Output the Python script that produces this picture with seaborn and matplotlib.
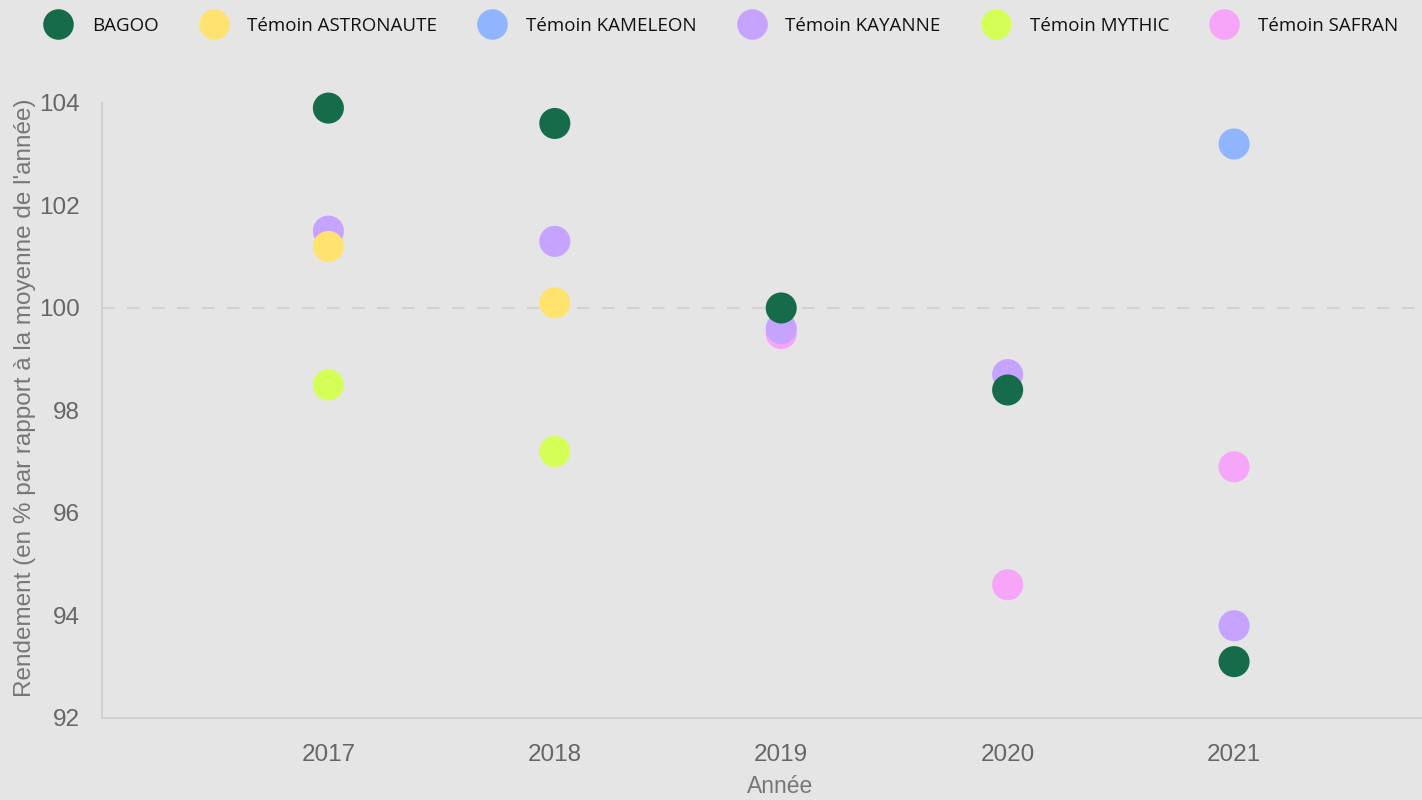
import numpy as np
import pandas as pd
import seaborn as sns
import matplotlib.pyplot as plt

years = [2017, 2018, 2019, 2020, 2021]
bagoo = [103.9, 103.6, 100.0, 98.4, 93.1]
astronaute = [101.2, 100.1, np.nan, np.nan, np.nan]
kameleon = [np.nan, np.nan, np.nan, np.nan, 103.2]
kayanne = [101.5, 101.3, 99.6, 98.7, 93.8]
mythic = [98.5, 97.2, np.nan, np.nan, np.nan]
safran = [np.nan, np.nan, 99.5, 94.6, 96.9]

series = ["BAGOO", "Témoin ASTRONAUTE", "Témoin KAMELEON",
          "Témoin KAYANNE", "Témoin MYTHIC", "Témoin SAFRAN"]
colors = ["#166b4a", "#ffe36e", "#91b4ff", "#c6a3ff", "#d4ff57", "#f6a5f8"]
yticks = [92, 94, 96, 98, 100, 102, 104]

values = [bagoo, astronaute, kameleon, kayanne, mythic, safran]
rows = []
for name, vals in zip(series, values):
    for yr, v in zip(years, vals):
        if not np.isnan(v):
            rows.append({"Année": yr, "Rendement": v, "Variété": name})
df = pd.DataFrame(rows)
# draw order: last legend entry first, BAGOO on top
order = {name: i for i, name in enumerate(series[::-1])}
df = df.sort_values("Variété", key=lambda s: s.map(order), kind="stable")

sns.set_style("white")
plt.rcParams['font.family'] = ['Liberation Sans', 'DejaVu Sans']
bg = "#e5e5e5"
fig = plt.figure(figsize=(14.22, 8), dpi=100, facecolor=bg)
ax = fig.add_axes([0.0717, 0.1025, 0.9283, 0.7688])
ax.set_facecolor(bg)

ax.axhline(100, color="#d2d2d2", lw=1.5, ls=(0, (6, 6)), zorder=0)
sns.scatterplot(data=df, x="Année", y="Rendement", hue="Variété",
                hue_order=series, palette=dict(zip(series, colors)),
                s=500, linewidth=0, alpha=1, ax=ax, legend=False, zorder=3,
                clip_on=False)

ax.set_xlim(2016, 2021.83)
ax.set_ylim(92, 104)
ax.set_xticks(years)
ax.set_yticks(yticks)
ax.tick_params(length=0, labelsize=17.5, labelcolor="#666666")
ax.tick_params(axis="y", pad=16)
ax.tick_params(axis="x", pad=19)
for sp in ["top", "right"]:
    ax.spines[sp].set_visible(False)
for sp in ["left", "bottom"]:
    ax.spines[sp].set_color("#cccccc")
    ax.spines[sp].set_linewidth(1.2)
ax.set_xlabel("Année", fontsize=16.5, color="#777777")
ax.xaxis.set_label_coords(0.5136, -0.092)
ax.set_ylabel("Rendement (en % par rapport à la moyenne de l'année)",
              fontsize=17.5, color="#777777")
ax.yaxis.set_label_coords(-0.0497, 0.52)

handles = [plt.Line2D([], [], marker="o", ls="", markersize=22,
                      markerfacecolor=c, markeredgewidth=0) for c in colors]
fig.legend(handles, series, loc="upper center", bbox_to_anchor=(0.5055, 1.0),
           ncol=6, frameon=False, handletextpad=0.8, labelcolor="#111111",
           columnspacing=1.93, prop={"family": "Open Sans", "size": 13.5})

fig.savefig("out.png", dpi=100, facecolor=bg)
